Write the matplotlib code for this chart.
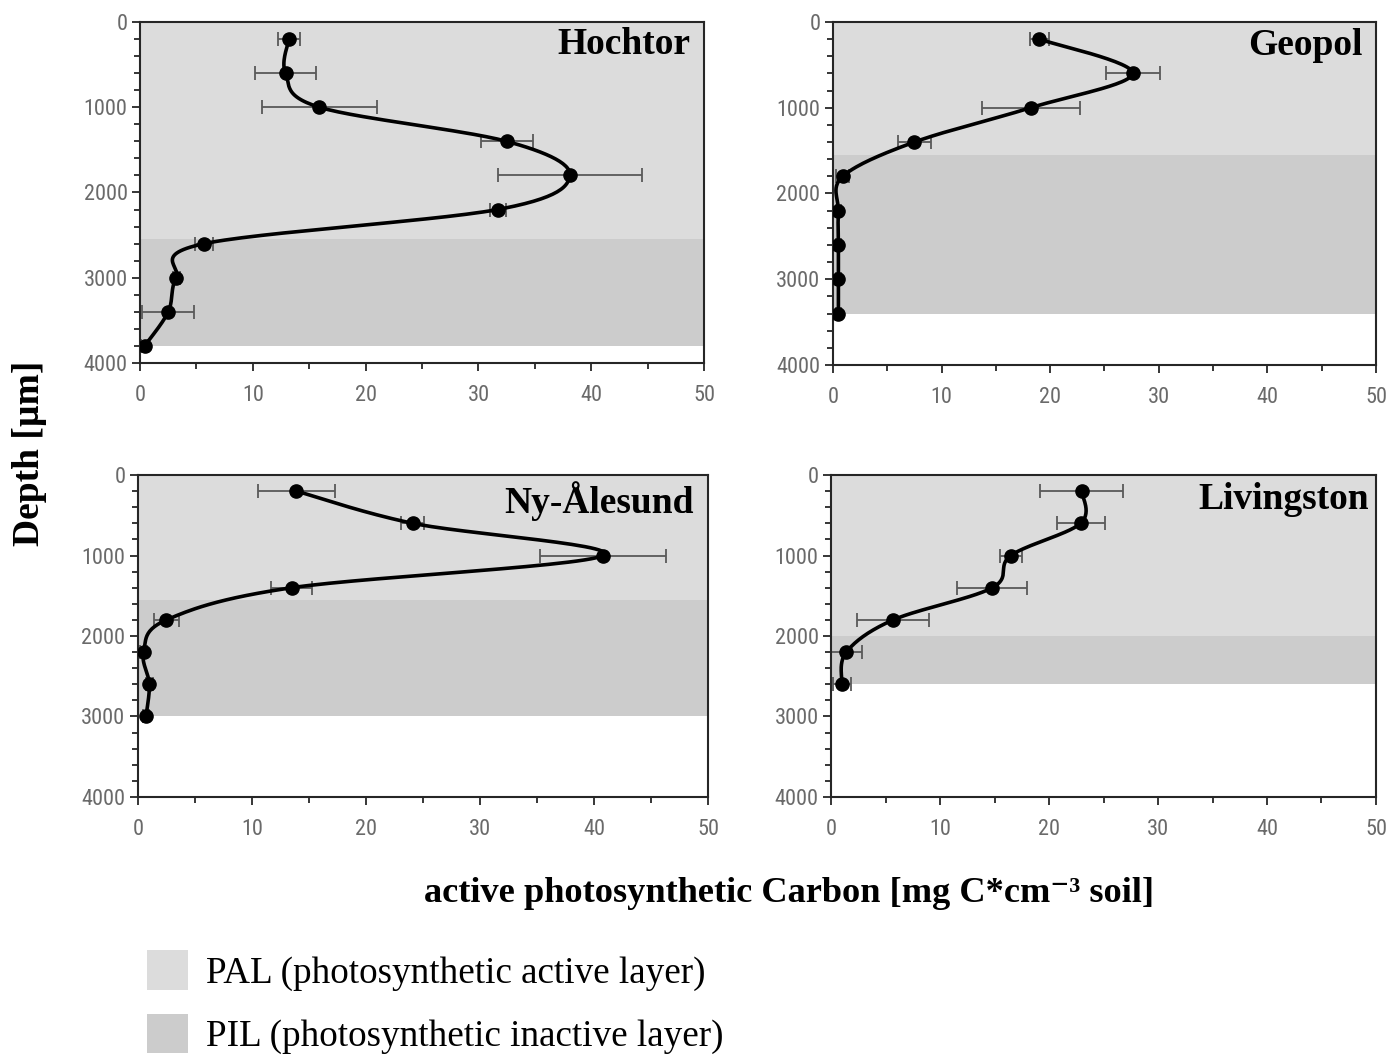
# plot.py
# active photosynthetic carbon depth profiles for four sites

import matplotlib
matplotlib.use('Agg')
import matplotlib.pyplot as plt
from matplotlib.patches import Patch
from matplotlib.ticker import MultipleLocator
import numpy as np

plt.rcParams['font.family'] = ['Liberation Serif', 'DejaVu Serif']

sites = ['Hochtor', 'Geopol', 'Ny-Ålesund', 'Livingston']

hochtor_depth = [200, 600, 1000, 1400, 1800, 2200, 2600, 3000, 3400, 3800]
hochtor_c = [13.2, 12.9, 15.9, 32.5, 38.1, 31.7, 5.7, 3.2, 2.5, 0.4]
hochtor_err = [1.0, 2.7, 5.1, 2.3, 6.4, 0.7, 0.8, 0.3, 2.3, 0.3]

geopol_depth = [200, 600, 1000, 1400, 1800, 2200, 2600, 3000, 3400]
geopol_c = [19.0, 27.6, 18.2, 7.5, 0.9, 0.5, 0.5, 0.5, 0.5]
geopol_err = [0.9, 2.5, 4.5, 1.5, 0.6, 0.2, 0.2, 0.2, 0.2]

nyalesund_depth = [200, 600, 1000, 1400, 1800, 2200, 2600, 3000]
nyalesund_c = [13.9, 24.1, 40.8, 13.5, 2.5, 0.5, 1.0, 0.7]
nyalesund_err = [3.4, 1.0, 5.5, 1.8, 1.1, 0.3, 0.3, 0.3]

livingston_depth = [200, 600, 1000, 1400, 1800, 2200, 2600]
livingston_c = [23.0, 22.9, 16.5, 14.8, 5.7, 1.4, 1.0]
livingston_err = [3.8, 2.2, 1.0, 3.2, 3.3, 1.4, 0.8]

# photosynthetic active / inactive layer limits (depth, um)
pal_end = [2550, 1550, 1550, 2000]
pil_end = [3800, 3400, 3000, 2600]

depths = [hochtor_depth, geopol_depth, nyalesund_depth, livingston_depth]
carbon = [hochtor_c, geopol_c, nyalesund_c, livingston_c]
errors = [hochtor_err, geopol_err, nyalesund_err, livingston_err]

PAL_COLOR = '#dcdcdc'
PIL_COLOR = '#cccccc'
TICK_COLOR = '#6a6a6a'
TICK_FONT = ['Liberation Sans Narrow', 'Roboto Condensed', 'Liberation Sans',
             'DejaVu Sans']


def smooth(x, y, n=30):
    # excel-like smoothed line (catmull-rom bezier)
    p = np.column_stack([x, y]).astype(float)
    ext = np.vstack([p[0], p, p[-1]])
    out = []
    t = np.linspace(0, 1, n)[:, None]
    for i in range(1, len(ext) - 2):
        p0, p1, p2, p3 = ext[i - 1], ext[i], ext[i + 1], ext[i + 2]
        c1 = p1 + (p2 - p0) / 6
        c2 = p2 - (p3 - p1) / 6
        seg = ((1 - t) ** 3) * p1 + 3 * ((1 - t) ** 2) * t * c1 \
            + 3 * (1 - t) * t ** 2 * c2 + t ** 3 * p2
        out.append(seg)
    s = np.vstack(out)
    return s[:, 0], s[:, 1]


fig = plt.figure(figsize=(13.92, 10.57), dpi=100)
rects = [
    [0.1006, 0.6566, 0.4052, 0.3226],
    [0.5984, 0.6547, 0.3901, 0.3245],
    [0.0991, 0.2460, 0.4095, 0.3046],
    [0.5970, 0.2460, 0.3915, 0.3046],
]
title_x = [0.975, 0.975, 0.975, 0.988]
title_y = [0.935, 0.93, 0.92, 0.925]

for i in range(4):
    ax = fig.add_axes(rects[i])
    ax.axhspan(0, pal_end[i], color=PAL_COLOR, lw=0, zorder=0)
    ax.axhspan(pal_end[i], pil_end[i], color=PIL_COLOR, lw=0, zorder=0)

    ax.errorbar(carbon[i], depths[i], xerr=errors[i], fmt='none',
                ecolor='#595959', elinewidth=1.3, capsize=5, capthick=1.3,
                zorder=2)
    sx, sy = smooth(carbon[i], depths[i])
    ax.plot(sx, sy, color='black', lw=2.6, zorder=3)
    ax.plot(carbon[i], depths[i], 'o', color='black', ms=9.5, zorder=4)

    ax.set_xlim(0, 50)
    ax.set_ylim(4000, 0)
    ax.xaxis.set_major_locator(MultipleLocator(10))
    ax.xaxis.set_minor_locator(MultipleLocator(5))
    ax.yaxis.set_major_locator(MultipleLocator(1000))
    ax.yaxis.set_minor_locator(MultipleLocator(200))
    ax.tick_params(which='both', direction='out', colors='#262626',
                   labelcolor=TICK_COLOR, width=1.3)
    ax.tick_params(which='major', length=6)
    ax.tick_params(which='minor', length=4)
    ax.tick_params(axis='x', pad=10)
    ax.tick_params(axis='y', pad=3)
    for lab in ax.get_xticklabels() + ax.get_yticklabels():
        lab.set_family(TICK_FONT)
        lab.set_fontsize(16)
    for sp in ax.spines.values():
        sp.set_linewidth(1.5)
        sp.set_color('#262626')

    ax.text(title_x[i], title_y[i], sites[i], transform=ax.transAxes,
            ha='right', va='center', fontsize=27, fontweight='bold')

fig.text(0.567, 0.155, 'active photosynthetic Carbon [mg C*cm\u207b\u00b3 soil]',
         ha='center', va='center', fontsize=26.2, fontweight='bold')
fig.text(0.021, 0.571, 'Depth [µm]', rotation=90, ha='center', va='center',
         fontsize=27, fontweight='bold')

handles = [Patch(facecolor=PAL_COLOR, edgecolor='none'),
           Patch(facecolor=PIL_COLOR, edgecolor='none')]
fig.legend(handles, ['PAL (photosynthetic active layer)',
                     'PIL (photosynthetic inactive layer)'],
           loc='lower left', bbox_to_anchor=(0.1056, 0.003), frameon=False,
           fontsize=26.7, handlelength=1.1, handleheight=1.25,
           handletextpad=0.5, labelspacing=0.62, borderpad=0,
           borderaxespad=0)

fig.savefig('out.png', dpi=100)
